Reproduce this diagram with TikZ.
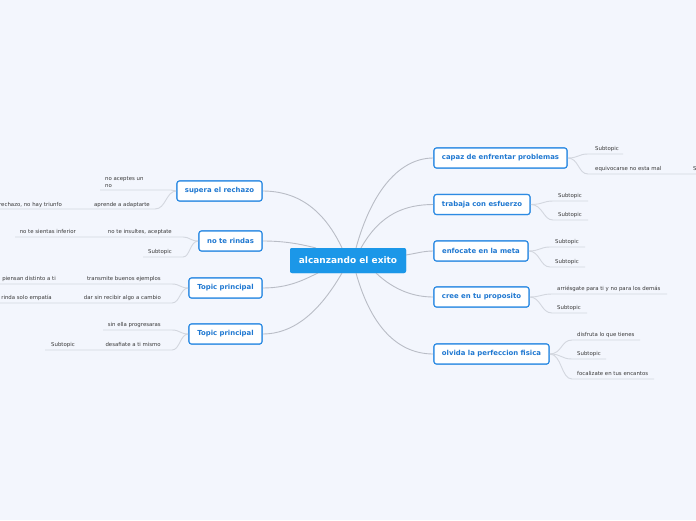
\documentclass[tikz,border=0pt]{standalone}
\usepackage{fontspec}
\setmainfont{DejaVu Sans}
\definecolor{bgc}{HTML}{F3F6FD}
\definecolor{centralblue}{HTML}{1B97E8}
\definecolor{topicblue}{HTML}{2D8BE3}
\definecolor{topictext}{HTML}{1F78D1}
\definecolor{linegray}{HTML}{B9BDC6}
\definecolor{ulgray}{HTML}{D3D7DF}
\definecolor{subtext}{HTML}{3A3A3A}
\tikzset{
  topic/.style={draw=topicblue, line width=1.1pt, fill=white, rounded corners=2.5pt,
    text=topictext, font=\fontsize{6.9}{8}\selectfont\bfseries, minimum height=20pt, inner sep=0pt},
  central/.style={fill=centralblue, rounded corners=2pt, text=white,
    font=\fontsize{9}{10}\selectfont\bfseries, minimum height=25pt, minimum width=116pt, inner sep=0pt},
  conn/.style={draw=linegray, line width=0.9pt},
  subconn/.style={draw=ulgray, line width=0.9pt},
  sub/.style={text=subtext, font=\fontsize{5.4}{8}\selectfont, inner sep=0pt},
}
\begin{document}
\begin{tikzpicture}[x=1pt,y=-1pt]
\useasboundingbox[fill=bgc] (0,0) rectangle (696,520);

% central
\node[central] (c) at (348,260.5) {alcanzando el exito};

% right topics
\node[topic, minimum width=133pt] (r1) at (500.5,158) {capaz de enfrentar problemas};
\node[topic, minimum width=96pt] (r2) at (482,204.5) {trabaja con esfuerzo};
\node[topic, minimum width=94pt] (r3) at (481,251) {enfocate en la meta};
\node[topic, minimum width=95pt] (r4) at (481.5,297) {cree en tu proposito};
\node[topic, minimum width=115pt] (r5) at (491.5,354) {olvida la perfeccion fisica};

% left topics
\node[topic, minimum width=85pt] (l1) at (219.5,191) {supera el rechazo};
\node[topic, minimum width=63pt] (l2) at (230.5,241) {no te rindas};
\node[topic, minimum width=73pt] (l3) at (225.5,288) {Topic principal};
\node[topic, minimum width=73pt] (l4) at (225.5,334) {Topic principal};

% anchors on central node
\coordinate (cr1) at (356,248);
\coordinate (cr2) at (361,248);
\coordinate (cr3) at (406,255);
\coordinate (cr4) at (376,273);
\coordinate (cr5) at (356,273);
\coordinate (cl1) at (342,248);
\coordinate (cl2) at (316,248);
\coordinate (cl3) at (318,273);
\coordinate (cl4) at (342,273);

\draw[conn] (cr1) .. controls (372,190) and (400,158) .. (r1.west);
\draw[conn] (cr2) .. controls (380,214) and (405,204.5) .. (r2.west);
\draw[conn] (cr3) .. controls (418,253) and (424,251) .. (r3.west);
\draw[conn] (cr4) .. controls (395,291) and (415,297) .. (r4.west);
\draw[conn] (cr5) .. controls (372,330) and (400,354) .. (r5.west);
\draw[conn] (cl1) .. controls (325,212) and (300,191) .. (l1.east);
\draw[conn] (cl2) .. controls (300,244) and (285,241) .. (l2.east);
\draw[conn] (cl3) .. controls (305,279) and (290,288) .. (l3.east);
\draw[conn] (cl4) .. controls (325,302) and (300,334) .. (l4.east);

% ---------- right subtopics ----------
% r1
\coordinate (a1) at (588,154); \coordinate (a1e) at (623,154);
\coordinate (a2) at (588,174); \coordinate (a2e) at (696,174);
\draw[subconn] (r1.east) .. controls (579,158) and (578,154) .. (a1) -- (a1e);
\draw[subconn] (r1.east) .. controls (579,158) and (578,174) .. (a2) -- (a2e);
\node[sub, anchor=base west] (s1) at (595,150) {Subtopic};
\node[sub, anchor=base west] (s2) at (595,170) {equivocarse no esta mal};
\node[sub, anchor=base west] (s2a) at (693,170) {Subtopic};

% r2
\coordinate (b1) at (553,201); \coordinate (b1e) at (588,201);
\coordinate (b2) at (553,220); \coordinate (b2e) at (588,220);
\draw[subconn] (r2.east) .. controls (543,204.5) and (543,201) .. (b1) -- (b1e);
\draw[subconn] (r2.east) .. controls (543,204.5) and (543,220) .. (b2) -- (b2e);
\node[sub, anchor=base west] (s3) at (558,197) {Subtopic};
\node[sub, anchor=base west] (s4) at (558,216) {Subtopic};

% r3
\coordinate (d1) at (550,247); \coordinate (d1e) at (585,247);
\coordinate (d2) at (550,267); \coordinate (d2e) at (585,267);
\draw[subconn] (r3.east) .. controls (540,251) and (540,247) .. (d1) -- (d1e);
\draw[subconn] (r3.east) .. controls (540,251) and (540,267) .. (d2) -- (d2e);
\node[sub, anchor=base west] (s5) at (555,243) {Subtopic};
\node[sub, anchor=base west] (s6) at (555,263) {Subtopic};

% r4
\coordinate (e1) at (552,294); \coordinate (e1e) at (667,294);
\coordinate (e2) at (552,313); \coordinate (e2e) at (587,313);
\draw[subconn] (r4.east) .. controls (541,297) and (541,294) .. (e1) -- (e1e);
\draw[subconn] (r4.east) .. controls (541,297) and (541,313) .. (e2) -- (e2e);
\node[sub, anchor=base west] (s7) at (557,290) {arriésgate para ti y no para los demás};
\node[sub, anchor=base west] (s8) at (557,309) {Subtopic};

% r5
\coordinate (f1) at (572,340); \coordinate (f1e) at (640,340);
\coordinate (f2) at (572,359); \coordinate (f2e) at (606,359);
\coordinate (f3) at (572,379); \coordinate (f3e) at (654,379);
\draw[subconn] (r5.east) .. controls (562,354) and (561,340) .. (f1) -- (f1e);
\draw[subconn] (r5.east) .. controls (562,354) and (561,359) .. (f2) -- (f2e);
\draw[subconn] (r5.east) .. controls (562,354) and (561,379) .. (f3) -- (f3e);
\node[sub, anchor=base west] (s9) at (577,336) {disfruta lo que tienes};
\node[sub, anchor=base west] (s10) at (577,355) {Subtopic};
\node[sub, anchor=base west] (s11) at (577,375) {focalizate en tus encantos};

% ---------- left subtopics ----------
% l1
\coordinate (g1) at (171,190); \coordinate (g1e) at (100,190);
\coordinate (g2) at (155,209); \coordinate (g2e) at (88,209);
\coordinate (g3e) at (0,209);
\draw[subconn] (l1.west) .. controls (174,191) and (173,190) .. (g1) -- (g1e);
\draw[subconn] (l1.west) .. controls (166,191) and (166,209) .. (g2) -- (g2e) -- (g3e);
\node[sub, anchor=base west, align=left] (t1) at (105,187.5) {no aceptes un\\[-0.6pt]no};
\node[sub, anchor=base east] (t2) at (150,206) {aprende a adaptarte};
\node[sub, anchor=base east] (t3) at (62,206) {rechazo, no hay triunfo};

% l2
\coordinate (h1) at (183,237); \coordinate (h1e) at (104,237);
\coordinate (h2e) at (15,237);
\coordinate (h3) at (183,257); \coordinate (h3e) at (143,257);
\draw[subconn] (l2.west) .. controls (190,241) and (190,237) .. (h1) -- (h1e) -- (h2e);
\draw[subconn] (l2.west) .. controls (190,241) and (190,257) .. (h3) -- (h3e);
\node[sub, anchor=base east] (t4) at (172,233) {no te insultes, aceptate};
\node[sub, anchor=base east] (t5) at (76,233) {no te sientas inferior};
\node[sub, anchor=base east] (t6) at (172,253) {Subtopic};

% l3
\coordinate (k1) at (172,284); \coordinate (k1e) at (82,284); \coordinate (k2e) at (0,284);
\coordinate (k3) at (172,303); \coordinate (k3e) at (79,303); \coordinate (k4e) at (0,303);
\draw[subconn] (l3.west) .. controls (180,288) and (180,284) .. (k1) -- (k1e) -- (k2e);
\draw[subconn] (l3.west) .. controls (180,288) and (180,303) .. (k3) -- (k3e) -- (k4e);
\node[sub, anchor=base east] (t7) at (161,280) {transmite buenos ejemplos};
\node[sub, anchor=base east] (t8) at (56,280) {piensan distinto a ti};
\node[sub, anchor=base east] (t9) at (161,299) {dar sin recibir algo a cambio};
\node[sub, anchor=base east] (t10) at (52,299) {rinda solo empatía};

% l4
\coordinate (m1) at (172,330); \coordinate (m1e) at (103,330);
\coordinate (m2) at (172,350); \coordinate (m2e) at (101,350); \coordinate (m3e) at (45,350);
\draw[subconn] (l4.west) .. controls (180,334) and (180,330) .. (m1) -- (m1e);
\draw[subconn] (l4.west) .. controls (180,334) and (180,350) .. (m2) -- (m2e) -- (m3e);
\node[sub, anchor=base east] (t11) at (161,326) {sin ella progresaras};
\node[sub, anchor=base east] (t12) at (161,346) {desafiate a ti mismo};
\node[sub, anchor=base east] (t13) at (75,346) {Subtopic};

% redraw topic nodes on top of connectors
\node[topic, minimum width=133pt] at (r1) {capaz de enfrentar problemas};
\node[topic, minimum width=96pt] at (r2) {trabaja con esfuerzo};
\node[topic, minimum width=94pt] at (r3) {enfocate en la meta};
\node[topic, minimum width=95pt] at (r4) {cree en tu proposito};
\node[topic, minimum width=115pt] at (r5) {olvida la perfeccion fisica};
\node[topic, minimum width=85pt] at (l1) {supera el rechazo};
\node[topic, minimum width=63pt] at (l2) {no te rindas};
\node[topic, minimum width=73pt] at (l3) {Topic principal};
\node[topic, minimum width=73pt] at (l4) {Topic principal};
\node[central] at (c) {alcanzando el exito};
\end{tikzpicture}
\end{document}
